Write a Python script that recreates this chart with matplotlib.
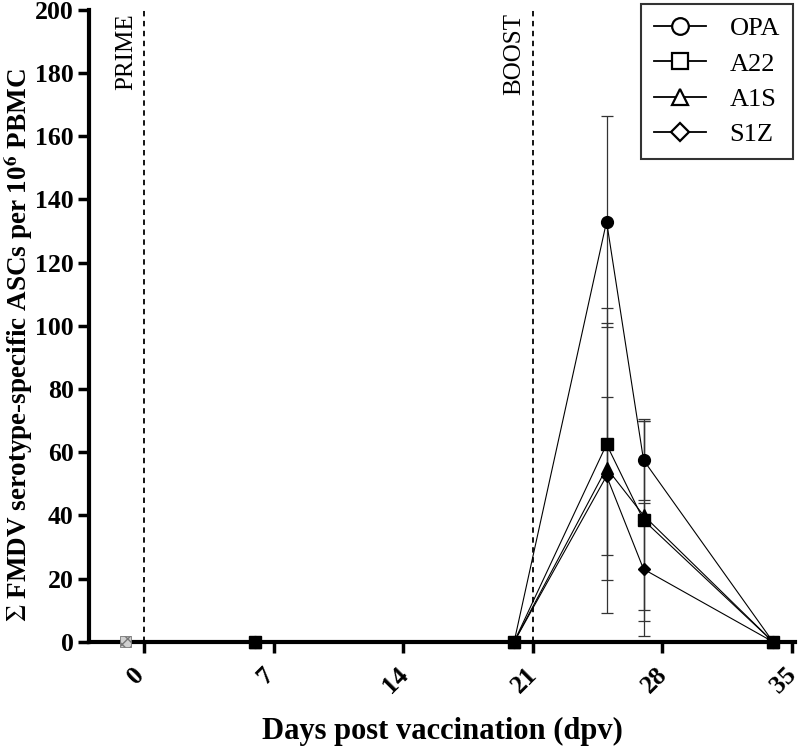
"""ASC response after prime/boost, per serotype."""
import matplotlib
matplotlib.use("Agg")
import matplotlib.pyplot as plt
import matplotlib.transforms as mtransforms
import numpy as np
from matplotlib.lines import Line2D

days = [-1, 6, 20, 25, 27, 34]

serotypes = ["OPA", "A22", "A1S", "S1Z"]
markers = {"OPA": "o", "A22": "s", "A1S": "^", "S1Z": "D"}
marker_sizes = {"OPA": 8.5, "A22": 8, "A1S": 8.5, "S1Z": 6}
legend_sizes = {"OPA": 12, "A22": 11.5, "A1S": 12, "S1Z": 9}

opa_mean = [0, 0, 0, 133.0, 57.5, 0]
opa_sem = [0, 0, 0, 33.5, 12.5, 0]
a22_mean = [0, 0, 0, 62.5, 38.5, 0]
a22_sem = [0, 0, 0, 43.0, 32.0, 0]
a1s_mean = [0, 0, 0, 55.0, 40.0, 0]
a1s_sem = [0, 0, 0, 46.0, 30.0, 0]
s1z_mean = [0, 0, 0, 52.5, 23.0, 0]
s1z_sem = [0, 0, 0, 25.0, 21.0, 0]

means = {"OPA": opa_mean, "A22": a22_mean, "A1S": a1s_mean, "S1Z": s1z_mean}
sems = {"OPA": opa_sem, "A22": a22_sem, "A1S": a1s_sem, "S1Z": s1z_sem}

events = [(0, "PRIME"), (21, "BOOST")]
xticks = [0, 7, 14, 21, 28, 35]
yticks = list(range(0, 201, 20))

plt.rcParams["font.family"] = ["Liberation Serif", "DejaVu Serif"]
plt.rcParams["mathtext.fontset"] = "stix"

fig = plt.figure(figsize=(8, 7.56), dpi=100)
ax = fig.add_axes([0.111, 0.151, 0.883, 0.836])

x = np.array(days, dtype=float)
draw_order = ["OPA", "A1S", "S1Z", "A22"]
for name in draw_order:
    y = np.array(means[name])
    e = np.array(sems[name])
    ax.plot(x[1:], y[1:], color="black", lw=0.8, marker=markers[name],
            ms=marker_sizes[name], mfc="black", mec="black", zorder=3, clip_on=False)
    m = e > 0
    ax.errorbar(x[m], y[m], yerr=e[m], fmt="none", ecolor="#333333",
                elinewidth=0.9, capsize=4, capthick=0.9, zorder=2)

# first time point: all serotypes overlap
ax.scatter([days[0]], [0], marker="s", s=60, facecolor="#d0d0d0",
           edgecolor="#777777", hatch="xxx", linewidth=0.6, zorder=4, clip_on=False)

for xv, label in events:
    ax.axvline(xv, color="black", ls=(0, (3, 2.5)), lw=1.3, zorder=1)
    ax.text(xv - 0.4, 199, label, rotation=90, ha="right", va="top", fontsize=18)

ax.set_xlim(-3, 35.2)
ax.set_ylim(0, 200)
ax.set_xticks(xticks)
ax.set_yticks(yticks)
ax.tick_params(axis="both", direction="out", width=2.5, length=8)
ax.tick_params(axis="y", labelsize=18.5, pad=3)
ax.tick_params(axis="x", labelsize=18.5, pad=7)
shift = mtransforms.ScaledTranslation(-8 / 100, 0, fig.dpi_scale_trans)
for lab in ax.get_xticklabels() + ax.get_yticklabels():
    lab.set_fontweight("bold")
for lab in ax.get_xticklabels():
    lab.set_rotation(45)
    lab.set_ha("center")
    lab.set_va("top")
    lab.set_transform(lab.get_transform() + shift)

for side in ["top", "right"]:
    ax.spines[side].set_visible(False)
for side in ["left", "bottom"]:
    ax.spines[side].set_linewidth(3)

ax.set_xlabel("Days post vaccination (dpv)", fontsize=22, fontweight="bold", labelpad=14)
ax.set_ylabel(r"$\Sigma$ FMDV serotype-specific ASCs per 10$^{\mathbf{6}}$ PBMC",
              fontsize=19.5, fontweight="bold")
ax.yaxis.set_label_coords(-0.076, 0.47)

handles = [Line2D([], [], color="black", lw=1.3, marker=markers[n], ms=legend_sizes[n],
                  mfc="white", mec="black", mew=1.6) for n in serotypes]
leg = ax.legend(handles, serotypes, loc="upper right", bbox_to_anchor=(0.997, 1.01),
                fontsize=19, frameon=True, fancybox=False, handlelength=1.95,
                borderpad=0.5, labelspacing=0.45, handletextpad=0.9, borderaxespad=0)
leg.get_frame().set_edgecolor("black")
leg.get_frame().set_linewidth(1.5)

fig.savefig("out.png", dpi=100)
